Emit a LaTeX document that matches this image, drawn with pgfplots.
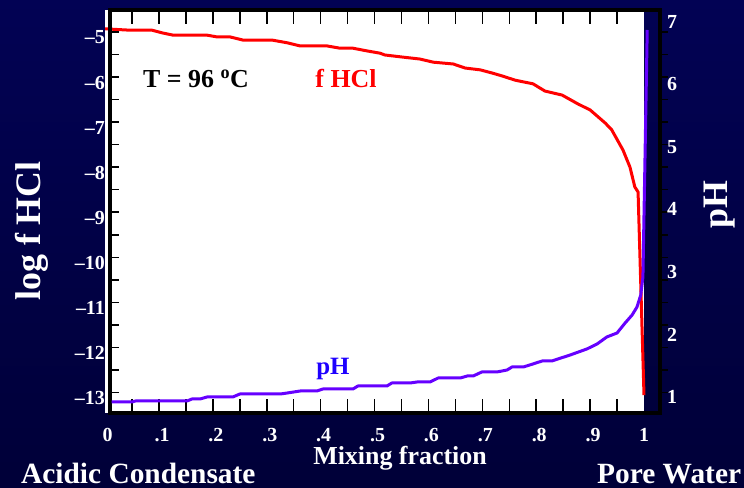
\documentclass[border=0pt]{standalone}
\usepackage{fontspec}
\setmainfont{Liberation Serif}
\usepackage{pgfplots}
\pgfplotsset{compat=1.18}
\definecolor{navytop}{RGB}{2,2,84}
\definecolor{navybot}{RGB}{0,0,56}
\definecolor{phline}{RGB}{102,0,255}
\definecolor{phtext}{RGB}{30,0,255}
\newcommand{\tickfont}{\fontsize{20}{24}\selectfont\bfseries}
\newcommand{\bigfont}{\fontsize{36}{40}\selectfont\bfseries}
\pgfplotsset{
  frameaxis/.style={
    at={(110bp,75bp)}, anchor=south west,
    scale only axis, width=550bp, height=403bp,
    xmin=0.009, xmax=1.0297,
  },
  tickstrip/.style={
    scale only axis, anchor=south west, clip=false,
    axis line style={draw=none},
    xtick=\empty, ytick=\empty,
  },
  xstrip/.style={tickstrip, width=550bp, height=14bp,
    xmin=0.009, xmax=1.0297, ymin=0, ymax=1},
  ystrip/.style={tickstrip, height=403bp,
    xmin=0, xmax=1, ymin=-13.455, ymax=-4.512},
}
\newcommand{\xtickpts}{(0.05,1) (0.10,1) (0.15,1) (0.20,1) (0.25,1) (0.30,1) (0.35,1) (0.40,1) (0.45,1) (0.50,1) (0.55,1) (0.60,1) (0.65,1) (0.70,1) (0.75,1) (0.80,1) (0.85,1) (0.90,1) (0.95,1)}
\newcommand{\ytickpts}{(1,-13) (1,-12.5) (1,-12) (1,-11.5) (1,-11) (1,-10.5) (1,-10) (1,-9.5) (1,-9) (1,-8.5) (1,-8) (1,-7.5) (1,-7) (1,-6.5) (1,-6) (1,-5.5) (1,-5)}
\begin{document}
\begin{tikzpicture}
\shade[top color=navytop, bottom color=navybot] (0bp,0bp) rectangle (744bp,488bp);
\useasboundingbox (0bp,0bp) rectangle (744bp,488bp);
% white plotting area from x=0 to x=1
\fill[white] (105bp,75bp) rectangle (644bp,478bp);
% main axis: log f HCl
\begin{axis}[
  frameaxis,
  ymin=-13.455, ymax=-4.512,
  clip=false, axis on top,
  axis line style={line width=4.5bp, black},
  major tick length=0pt, minor tick length=0pt,
  xtick={0.1,0.2,0.3,0.4,0.5,0.6,0.7,0.8,0.9},
  xticklabels={.1,.2,.3,.4,.5,.6,.7,.8,.9},
  ytick={-13,-12,-11,-10,-9,-8,-7,-6,-5},
  yticklabels={\textendash13,\textendash12,\textendash11,\textendash10,\textendash9,\textendash8,\textendash7,\textendash6,\textendash5},
  xticklabel pos=lower, yticklabel pos=left,
  every tick label/.append style={font=\tickfont, text=white},
  xticklabel style={inner sep=0pt, anchor=north, yshift=-15bp, xshift=3bp},
  yticklabel style={inner sep=0pt, anchor=east, xshift=-5bp, yshift=-5.5bp},
]
\addplot[red, line width=3bp, line join=round] coordinates {
(0,-4.93) (0.046,-4.96) (0.087,-4.96) (0.106,-5.02) (0.126,-5.07) (0.189,-5.07)
(0.208,-5.11) (0.232,-5.11) (0.256,-5.18) (0.310,-5.18) (0.338,-5.24) (0.362,-5.31)
(0.412,-5.31) (0.436,-5.36) (0.460,-5.36) (0.486,-5.42) (0.510,-5.47) (0.519,-5.51)
(0.547,-5.55) (0.584,-5.60) (0.609,-5.67) (0.646,-5.71) (0.668,-5.80) (0.696,-5.84)
(0.718,-5.91) (0.738,-5.98) (0.761,-6.07) (0.794,-6.15) (0.816,-6.31) (0.848,-6.40)
(0.878,-6.60) (0.900,-6.73) (0.928,-7.02) (0.940,-7.17) (0.961,-7.62) (0.974,-8.00)
(0.983,-8.44) (0.989,-8.55) (1.0,-13.06)
};
\end{axis}
% tick marks: bottom and top (inward), left (inward), right (outward)
\begin{axis}[xstrip, at={(110bp,75bp)}]
\addplot[ycomb, black, line width=1.5bp, mark=none] coordinates {\xtickpts};
\end{axis}
\begin{axis}[xstrip, at={(110bp,464bp)}]
\addplot[ycomb, black, line width=1.5bp, mark=none] coordinates {\xtickpts};
\end{axis}
\begin{axis}[ystrip, width=9bp, at={(110bp,75bp)}]
\addplot[xcomb, black, line width=1.5bp, mark=none] coordinates {\ytickpts};
\end{axis}
\begin{axis}[ystrip, width=8bp, at={(660bp,75bp)}]
\addplot[xcomb, black, line width=1.5bp, mark=none] coordinates {\ytickpts};
\end{axis}
% pH axis
\begin{axis}[
  frameaxis,
  ymin=0.744, ymax=7.19,
  clip=false,
  axis y line*=right, axis x line=none,
  y axis line style={draw=none},
  ytick={1,2,3,4,5,6,7},
  yticklabels={1,2,3,4,5,6,7},
  major tick length=0pt,
  ytick style={draw=none},
  yticklabel style={font=\tickfont, text=white, inner sep=0pt, anchor=west, xshift=7bp},
]
\addplot[phline, line width=3bp, line join=round] coordinates {
(0.012,0.92) (0.050,0.92) (0.056,0.936) (0.152,0.936) (0.161,0.968) (0.176,0.968)
(0.189,1.0) (0.237,1.0) (0.250,1.048) (0.325,1.048) (0.338,1.064) (0.362,1.096)
(0.393,1.096) (0.404,1.128) (0.460,1.128) (0.469,1.176) (0.523,1.176) (0.532,1.224)
(0.566,1.224) (0.579,1.24) (0.603,1.24) (0.618,1.304) (0.659,1.304) (0.672,1.336)
(0.683,1.336) (0.699,1.40) (0.727,1.40) (0.746,1.432) (0.755,1.48) (0.776,1.48)
(0.788,1.512) (0.811,1.576) (0.829,1.576) (0.863,1.672) (0.894,1.768) (0.913,1.848)
(0.931,1.96) (0.950,2.024) (0.965,2.184) (0.978,2.312) (0.987,2.44) (0.994,2.632)
(0.998,2.92) (1.006,6.87)
};
\end{axis}
% x tick labels at the ends
\node[font=\tickfont, text=white, inner sep=0pt, anchor=north] at (107.5bp,60bp) {0};
\node[font=\tickfont, text=white, inner sep=0pt, anchor=north] at (644bp,60bp) {1};
% annotations
\node[font=\fontsize{26}{30}\selectfont\bfseries, text=black] at (196bp,409bp) {T = 96 \textsuperscript{o}C};
\node[font=\fontsize{26}{30}\selectfont\bfseries, text=red] at (346bp,409bp) {f HCl};
\node[font=\fontsize{25}{30}\selectfont\bfseries, text=phtext] at (333bp,119bp) {pH};
% axis titles
\node[font=\bigfont, text=white, rotate=90] at (32bp,257bp) {log f HCl};
\node[font=\bigfont, text=white, rotate=90] at (720bp,283bp) {pH};
\node[font=\fontsize{26}{30}\selectfont\bfseries, text=white] at (400bp,30bp) {Mixing fraction};
\node[font=\fontsize{29.5}{32}\selectfont\bfseries, text=white, anchor=base west, inner sep=0pt] at (21bp,5bp) {Acidic Condensate};
\node[font=\fontsize{29.5}{32}\selectfont\bfseries, text=white, anchor=base west, inner sep=0pt] at (597bp,5bp) {Pore Water};
\end{tikzpicture}
\end{document}
